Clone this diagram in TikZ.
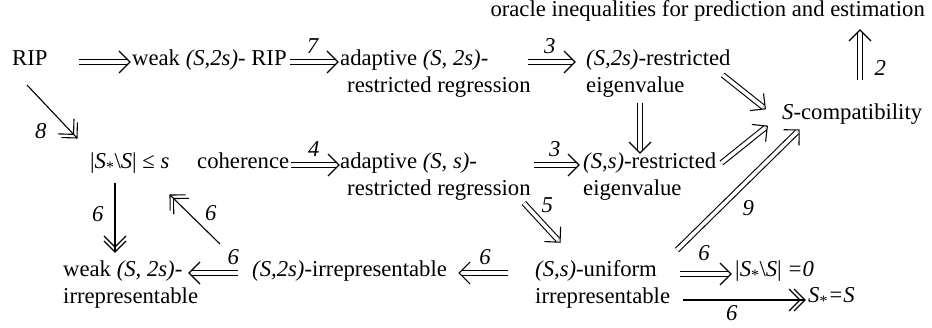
\documentclass[tikz,border=0pt]{standalone}
\usepackage{fontspec}
\setmainfont{Liberation Serif}
\usetikzlibrary{calc,positioning,decorations.markings}

\tikzset{
  txt/.style={anchor=base west, inner sep=0pt, align=left, font=\fontsize{22.7}{27}\selectfont},
  lab/.style={inner sep=1pt, font=\fontsize{22.7}{27}\selectfont\itshape},
  imp/.style={double, double distance=3.6pt, line width=1.1pt,
    postaction={decorate, decoration={markings, mark=at position 1 with
      {\draw[line width=1.1pt] (-8pt,11pt) -- (3pt,0pt) -- (-8pt,-11pt);}}}},
  dhd/.style={line width=1.1pt,
    postaction={decorate, decoration={markings, mark=at position 1 with
      {\draw[line width=1.1pt] (-11pt,11pt) -- (0pt,0pt) -- (-11pt,-11pt)
        (-16pt,11pt) -- (-5pt,0pt) -- (-16pt,-11pt);}}}}
}

\begin{document}
\begin{tikzpicture}[x=1pt, y=-1pt]
    \useasboundingbox (0,0) rectangle (932,328);

    % Properties (two-line nodes sit on their last baseline)
    \node[txt, anchor=base east] (orc) at (925,17) {oracle inequalities for prediction and estimation};
    \node[txt] (rip) at (12,66) {RIP};
    \node[txt] (wrip) at (132,66) {weak \textit{(S,2s)}- RIP};
    \node[txt] (ar2) at (340,93) {adaptive \textit{(S, 2s)}-\\\hspace*{7pt}restricted regression};
    \node[txt] (re2) at (586,93) {\textit{(S,2s)}-restricted\\eigenvalue};
    \node[txt] (comp) at (782,120) {\textit{S}-compatibility};
    \node[txt] (card) at (90,169) {|\textit{S}\textsubscript{*}\textbackslash\textit{S}| ≤ \textit{s}};
    \node[txt] (coh) at (197,169) {coherence};
    \node[txt] (ars) at (340,196) {adaptive \textit{(S, s)}-\\\hspace*{7pt}restricted regression};
    \node[txt] (res) at (583,196) {\textit{(S,s)}-restricted\\eigenvalue};
    \node[txt] (wirr) at (63,304) {weak \textit{(S, 2s)}-\\irrepresentable};
    \node[txt] (irr2) at (252,277) {\textit{(S,2s)}-irrepresentable};
    \node[txt] (unif) at (535,304) {\textit{(S,s)}-uniform\\irrepresentable};
    \node[txt] (zero) at (735,277) {|\textit{S}\textsubscript{*}\textbackslash\textit{S}| \textit{=0}};
    \node[txt] (seq) at (808,303) {\textit{S}\textsubscript{*}\textit{=S}};

    % Implications, top part
    \draw[imp] ($(rip.base east)+(31,-4)$) -- ($(wrip.base west)+(-5,-4)$);
    \draw[imp] ($(wrip.base east)+(3,-4)$) -- ($(ar2.base west)+(-5,-31)$) node[lab, midway, above=7pt] {7};
    \draw[imp] ($(ar2.base east)+(-3,-31)$) -- ($(re2.base west)+(-14,-31)$) node[lab, midway, above=7pt] {3};
    \draw[imp] ($(re2.base east)+(-8,-18)$) -- ($(comp.base west)+(-19,-13)$);
    \draw[imp] ($(comp.base west)+(78,-40)$) -- ($(orc.base east)+(-65,16)$) node[lab, pos=0.25, right=13pt] {2};
    \draw[imp] ($(re2.base west)+(54,10)$) -- ($(res.base west)+(57,-46)$);
    \draw[imp] ($(res.base east)+(5,-33)$) -- ($(comp.base west)+(-17,8)$);
    \draw[dhd] ($(rip.base west)+(15,19)$) -- ($(card.base west)+(-13,-31)$) node[lab, pos=0.7, below left=0pt and 14pt] {8};

    % Implications, middle part
    \draw[imp] ($(coh.base east)+(2,-4)$) -- ($(ars.base west)+(-4,-31)$) node[lab, midway, above=7pt] {4};
    \draw[imp] ($(ars.base east)+(3,-31)$) -- ($(res.base west)+(-7,-31)$) node[lab, midway, above=7pt] {3};
    \draw[imp] ($(ars.base east)+(-7,7)$) -- ($(unif.base west)+(23,-64)$) node[lab, pos=0.3, above right=0pt and 6pt] {5};
    \draw[imp] ($(unif.base west)+(142,-54)$) -- ($(comp.base west)+(15,12)$) node[lab, pos=0.45, below right=2pt and 10pt] {9};

    % Implications, bottom part
    \draw[imp] ($(unif.base west)+(-27,-31)$) -- ($(irr2.base east)+(15,-4)$) node[lab, midway, above=7pt] {6};
    \draw[imp] ($(irr2.base west)+(-14,-4)$) -- ($(wirr.base west)+(129,-31)$) node[lab, pos=0.1, above=7pt] {6};
    \draw[dhd] ($(irr2.base west)+(-32,-33)$) -- ($(card.base west)+(80,26)$) node[lab, pos=0.45, above right=0pt and 6pt] {6};
    \draw[dhd] ($(card.base west)+(25,14)$) -- ($(wirr.base west)+(52,-52)$) node[lab, pos=0.45, left=10pt] {6};
    \draw[imp] ($(unif.base west)+(145,-30)$) -- ($(zero.base west)+(-7,-3)$) node[lab, midway, above=12pt] {6};
    \draw[dhd] ($(unif.base west)+(148,-4)$) -- ($(seq.base west)+(-3,-3)$) node[lab, pos=0.4, below=4pt] {6};

\end{tikzpicture}
\end{document}
